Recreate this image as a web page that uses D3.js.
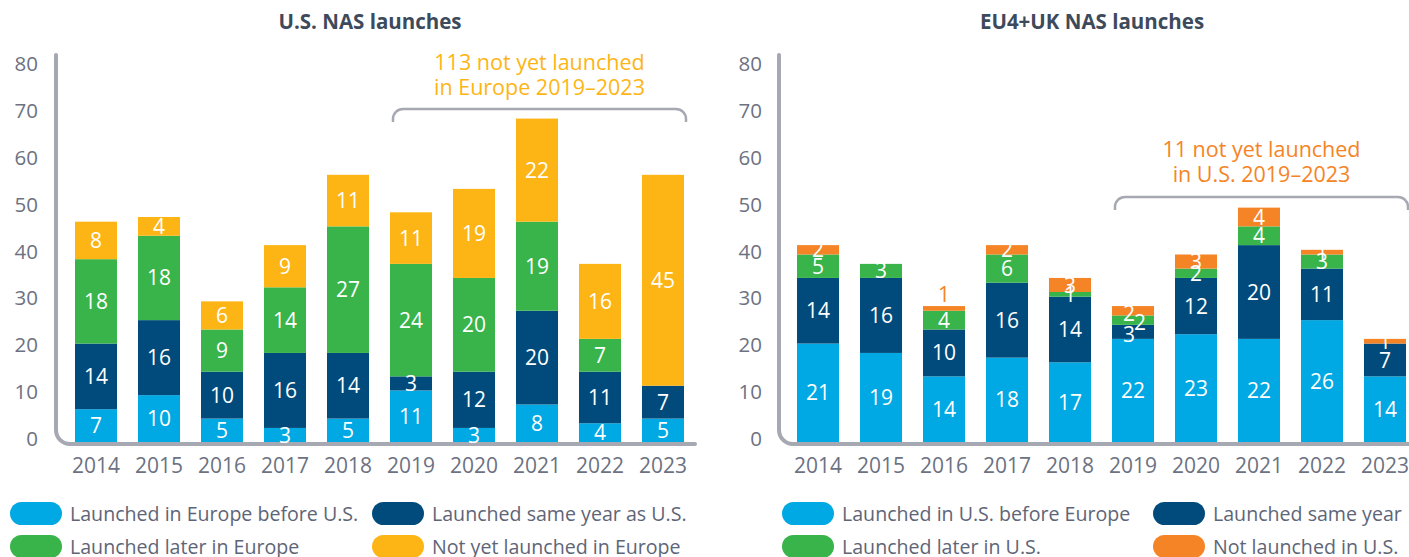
<!DOCTYPE html>
<html>
<head>
<meta charset="utf-8">
<script src="https://cdn.jsdelivr.net/npm/d3@7"></script>
<style>
  body { margin: 0; background: #fff; }
  svg { font-family: "Open Sans", "Noto Sans", sans-serif; }
</style>
</head>
<body>
<div id="chart"></div>
<script>
// data
const years = ["2014", "2015", "2016", "2017", "2018", "2019", "2020", "2021", "2022", "2023"];
const yTicks = [0, 10, 20, 30, 40, 50, 60, 70, 80];

// U.S. NAS launches
const usBeforeEurope = [7, 10, 5, 3, 5, 11, 3, 8, 4, 5];
const usSameYear     = [14, 16, 10, 16, 14, 3, 12, 20, 11, 7];
const usLaterEurope  = [18, 18, 9, 14, 27, 24, 20, 19, 7, 0];
const usNotYetEurope = [8, 4, 6, 9, 11, 11, 19, 22, 16, 45];
const usLegend = ["Launched in Europe before U.S.", "Launched same year as U.S.", "Launched later in Europe", "Not yet launched in Europe"];

// EU4+UK NAS launches
const euBeforeUS   = [21, 19, 14, 18, 17, 22, 23, 22, 26, 14];
const euSameYear   = [14, 16, 10, 16, 14, 3, 12, 20, 11, 7];
const euLaterUS    = [5, 3, 4, 6, 1, 2, 2, 4, 3, 0];
const euNotInUS    = [2, 0, 1, 2, 3, 2, 3, 4, 1, 1];
const euLegend = ["Launched in U.S. before Europe", "Launched same year", "Launched later in U.S.", "Not launched in U.S."];

const colors = ["#00A9E3", "#004B7B", "#38B44A", "#FDB515"];
const colorsEU = ["#00A9E3", "#004B7B", "#38B44A", "#F58426"];

const W = 1409, H = 557;
const axisGrey = "#A6A8B2", tickGrey = "#6C7282";

let svg = d3.select("#chart").append("svg")
    .attr("width", W)
    .attr("height", H);

let y = d3.scaleLinear().domain([0, 80]).range([442, 67]);

function drawPanel(opt) {
    let g = svg.append("g");
    let x = d3.scaleBand()
        .domain(years)
        .range([opt.x0, opt.x0 + 630])
        .paddingInner(0.333)
        .paddingOuter(0.1667);

    // the rounded L-shaped axis line
    let r = 14;
    g.append("path")
        .attr("d", "M" + opt.axisX + ",55 V" + (444 - r) +
            " A" + r + "," + r + " 0 0 0 " + (opt.axisX + r) + ",444 H" + opt.axisEnd)
        .attr("fill", "none")
        .attr("stroke", axisGrey)
        .attr("stroke-width", 4)
        .attr("stroke-linecap", "round");

    // y tick labels
    let ya = g.append("g")
        .attr("transform", "translate(" + opt.labelX + ",-3)")
        .call(d3.axisLeft(y).tickValues(yTicks).tickSize(0).tickPadding(0));
    ya.select(".domain").remove();
    ya.selectAll("text")
        .style("font-family", "Open Sans")
        .style("font-size", "20.5px")
        .attr("fill", tickGrey);

    // x tick labels
    let xa = g.append("g")
        .attr("transform", "translate(0,442)")
        .call(d3.axisBottom(x).tickSize(0).tickPadding(16.5));
    xa.select(".domain").remove();
    xa.selectAll("text")
        .style("font-family", "Open Sans")
        .style("font-size", "21px")
        .attr("fill", tickGrey);

    // stacked bars
    let rows = years.map(function(yr, i) {
        let o = {year: yr};
        opt.series.forEach(function(s, k) { o["s" + k] = s[i]; });
        return o;
    });
    let keys = opt.series.map(function(s, k) { return "s" + k; });
    let stack = d3.stack().keys(keys)(rows);

    stack.forEach(function(layer, k) {
        g.selectAll(".bar" + k)
            .data(layer)
            .enter()
            .append("rect")
            .attr("x", function(d) { return x(d.data.year); })
            .attr("y", function(d) { return y(d[1]); })
            .attr("width", x.bandwidth())
            .attr("height", function(d) { return y(d[0]) - y(d[1]); })
            .attr("fill", opt.colors[k]);
    });

    // value labels
    stack.forEach(function(layer, k) {
        g.selectAll(".lab" + k)
            .data(layer.filter(function(d) { return d[1] - d[0] > 0; }))
            .enter()
            .append("text")
            .attr("x", function(d) {
                let nudge = opt.nudge[d.data.year + "-" + k];
                return x(d.data.year) + x.bandwidth() / 2 + (nudge ? nudge[0] : 0);
            })
            .attr("y", function(d) {
                let nudge = opt.nudge[d.data.year + "-" + k];
                if (opt.outside[d.data.year + "-" + k]) return y(d[1]) - 12;
                return y((d[0] + d[1]) / 2) + (nudge ? nudge[1] : 0);
            })
            .attr("dy", "0.36em")
            .attr("text-anchor", "middle")
            .style("font-size", "21px")
            .attr("fill", function(d) {
                return opt.outside[d.data.year + "-" + k] ? opt.colors[k] : "#fff";
            })
            .text(function(d) { return d[1] - d[0]; });
    });

    // title
    g.append("text")
        .text(opt.title)
        .attr("x", opt.titleX)
        .attr("y", 29)
        .attr("text-anchor", "middle")
        .style("font-size", "20.5px")
        .style("font-weight", "bold")
        .attr("fill", "#3D4A5C");

    // bracket over 2019-2023
    let bx0 = x("2019") + 3, bx1 = x("2023") + x.bandwidth() + 2;
    let br = 10;
    g.append("path")
        .attr("d", "M" + bx0 + "," + (opt.bracketY + 13) + " V" + (opt.bracketY + br) +
            " A" + br + "," + br + " 0 0 1 " + (bx0 + br) + "," + opt.bracketY +
            " H" + (bx1 - br) +
            " A" + br + "," + br + " 0 0 1 " + bx1 + "," + (opt.bracketY + br) +
            " V" + (opt.bracketY + 13))
        .attr("fill", "none")
        .attr("stroke", axisGrey)
        .attr("stroke-width", 2.5);

    opt.note.forEach(function(line, i) {
        g.append("text")
            .text(line)
            .attr("x", (bx0 + bx1) / 2)
            .attr("y", opt.bracketY - opt.noteGap + i * 25)
            .attr("text-anchor", "middle")
            .style("font-size", "21.5px")
            .attr("fill", opt.colors[3]);
    });

    // legend
    opt.legend.forEach(function(name, i) {
        let lx = opt.legendX[i % 2], ly = 502 + Math.floor(i / 2) * 33;
        g.append("rect")
            .attr("x", lx)
            .attr("y", ly)
            .attr("width", 52)
            .attr("height", 23)
            .attr("rx", 11.5)
            .attr("fill", opt.colors[i]);
        g.append("text")
            .text(name)
            .attr("x", lx + 60)
            .attr("y", ly + 11.5)
            .attr("dy", "0.36em")
            .style("font-size", "19.6px")
            .attr("fill", "#5E6577");
    });
}

drawPanel({
    title: "U.S. NAS launches", titleX: 370,
    x0: 64.5, axisX: 56, axisEnd: 695, labelX: 38,
    series: [usBeforeEurope, usSameYear, usLaterEurope, usNotYetEurope],
    colors: colors,
    bracketY: 109, noteGap: 39,
    note: ["113 not yet launched", "in Europe 2019\u20132023"],
    legend: usLegend, legendX: [10, 372],
    nudge: {}, outside: {}
});

drawPanel({
    title: "EU4+UK NAS launches", titleX: 1092,
    x0: 786.5, axisX: 779, axisEnd: 1412, labelX: 762,
    series: [euBeforeUS, euSameYear, euLaterUS, euNotInUS],
    colors: colorsEU,
    bracketY: 197, noteGap: 40,
    note: ["11 not yet launched", "in U.S. 2019\u20132023"],
    legend: euLegend, legendX: [782, 1153],
    nudge: {"2019-1": [-4, 3], "2019-2": [7, 2], "2019-3": [-4, 3]},
    outside: {"2016-3": true}
});
</script>
</body>
</html>
